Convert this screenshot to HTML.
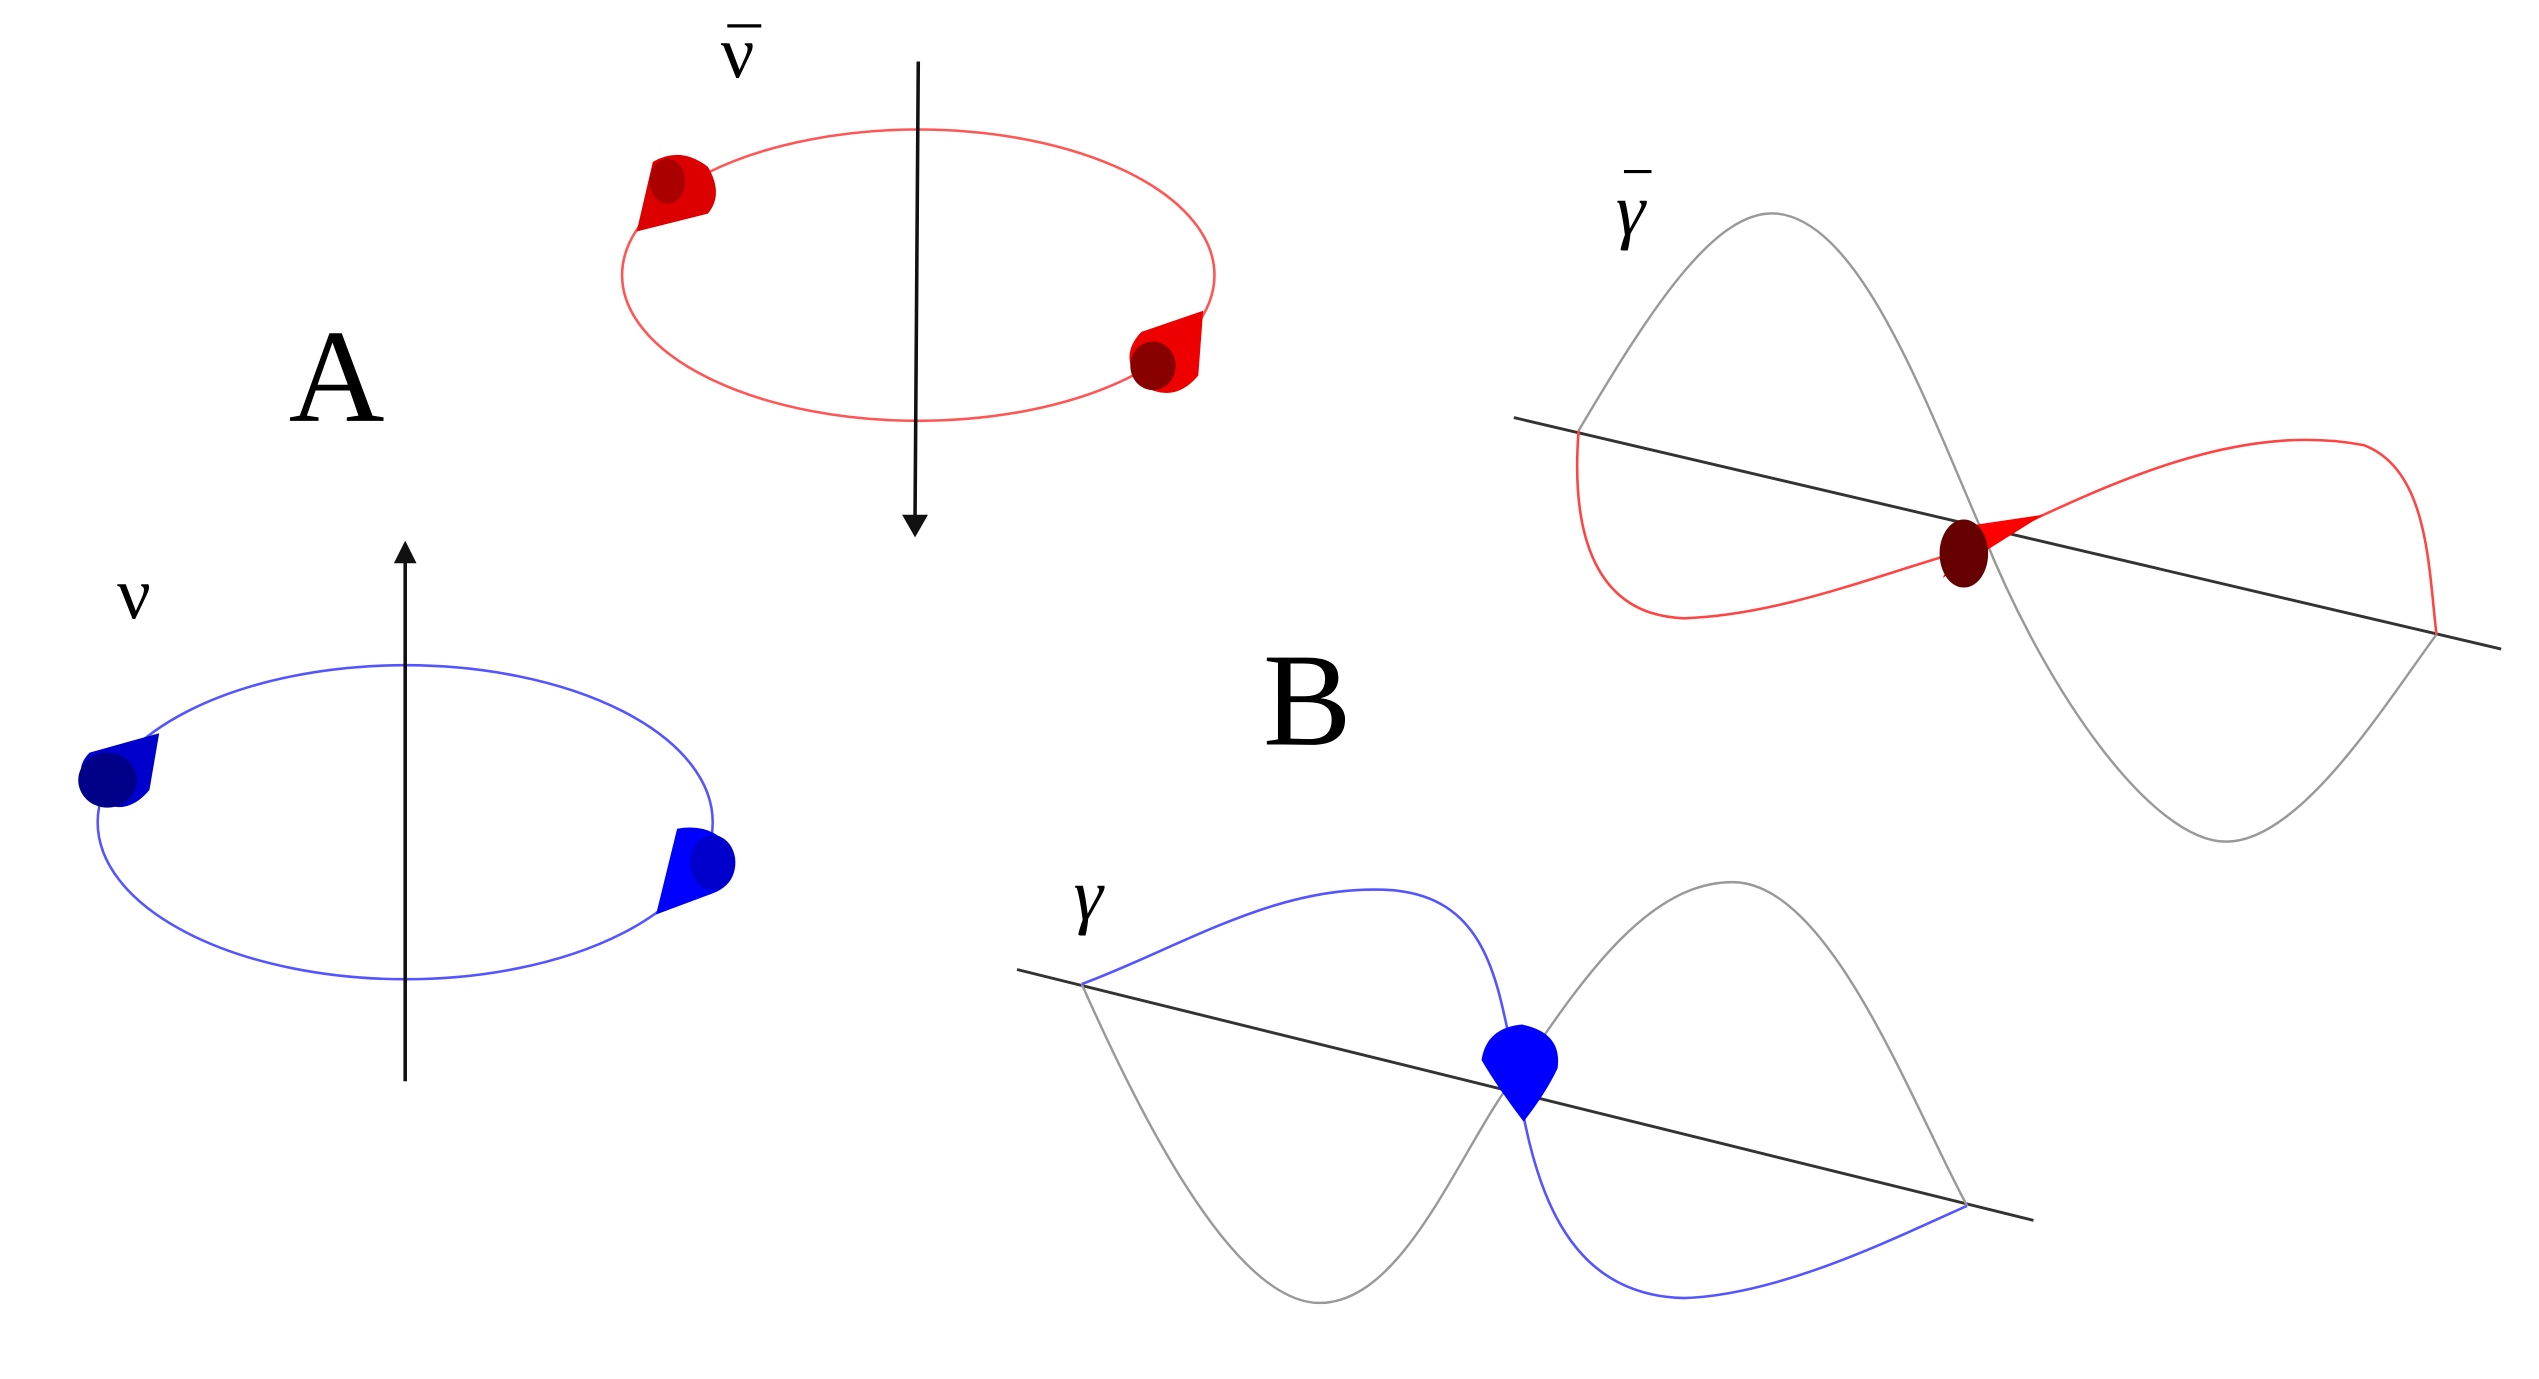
<!DOCTYPE html>
<html><head><meta charset="utf-8"><style>html,body{margin:0;padding:0;background:#fff}svg{display:block}</style></head>
<body>
<svg width="2539" height="1379" viewBox="0 0 1568 852" xmlns="http://www.w3.org/2000/svg" font-family="'Liberation Serif', serif">
<rect width="1568" height="852" fill="#fff"/>
<!-- A: antineutrino -->
<text x="445" y="48" font-size="46">ν</text>
<line x1="449" y1="16" x2="470" y2="16" stroke="#000" stroke-width="2"/>
<ellipse cx="567" cy="170" rx="183" ry="90" fill="none" stroke="#f55" stroke-width="1.6"/>
<line x1="567" y1="38" x2="565" y2="320" stroke="#111" stroke-width="2.2"/>
<polygon points="557,318 573,318 565,332" fill="#111"/>
<g>
<path d="M393,143 L403,100 Q420,90 437,103 Q447,120 437,132 Z" fill="#d00"/>
<ellipse cx="412" cy="112" rx="11" ry="14" fill="#a00"/>
</g>
<g>
<path d="M743,192 L740,232 Q725,250 705,238 Q690,220 705,205 Z" fill="#e00"/>
<ellipse cx="712" cy="226" rx="14" ry="15" fill="#800"/>
</g>
<text x="178" y="260" font-size="82">A</text>
<!-- neutrino -->
<text x="72" y="382" font-size="46">ν</text>
<ellipse cx="250" cy="508" rx="190" ry="97" fill="none" stroke="#55f" stroke-width="1.6"/>
<line x1="250" y1="668" x2="250" y2="345" stroke="#111" stroke-width="2.2"/>
<polygon points="243,348 257,348 250,334" fill="#111"/>
<g>
<path d="M98,453 L92,488 Q78,505 60,495 Q42,478 55,465 Z" fill="#00c"/>
<ellipse cx="66" cy="482" rx="18" ry="17" fill="#008"/>
</g>
<g>
<path d="M405,565 L418,512 Q440,508 452,525 Q458,545 440,552 Z" fill="#00f"/>
<ellipse cx="440" cy="533" rx="14" ry="17" fill="#00c"/>
</g>
<!-- B -->
<text x="780" y="460" font-size="82">B</text>
<!-- gamma bar -->
<text x="998" y="145" font-size="46" font-style="italic">γ</text>
<line x1="1003" y1="106" x2="1020" y2="106" stroke="#000" stroke-width="2"/>
<line x1="935" y1="258" x2="1545" y2="401" stroke="#333" stroke-width="1.8"/>
<path d="M975,266 C1020,190 1060,128 1098,132 C1150,138 1190,250 1225,330 C1265,430 1330,520 1375,520 C1420,520 1470,440 1505,392" fill="none" stroke="#999" stroke-width="1.5"/>
<path d="M975,266 C970,330 985,380 1040,382 C1100,380 1160,355 1220,338 C1300,300 1380,260 1460,275 C1500,290 1500,350 1505,392" fill="none" stroke="#f44" stroke-width="1.6"/>
<path d="M1262,318 L1215,325 L1200,357 Z" fill="#f00"/>
<ellipse cx="1213" cy="342" rx="15" ry="21" fill="#600"/>
<!-- gamma -->
<text x="663" y="568" font-size="46" font-style="italic">γ</text>
<line x1="628" y1="599" x2="1256" y2="754" stroke="#333" stroke-width="1.8"/>
<path d="M668,608 C700,680 760,805 815,805 C870,805 905,700 940,660 C980,600 1020,545 1070,545 C1130,545 1180,680 1215,745" fill="none" stroke="#999" stroke-width="1.5"/>
<path d="M668,608 C730,585 790,545 860,550 C920,555 925,610 935,655 C945,720 960,800 1040,802 C1100,800 1170,765 1215,745" fill="none" stroke="#55f" stroke-width="1.6"/>
<path d="M915,655 Q918,635 940,633 Q965,638 962,660 Q955,675 941,693 Q925,672 915,655 Z" fill="#00f"/>
</svg>
</body></html>
